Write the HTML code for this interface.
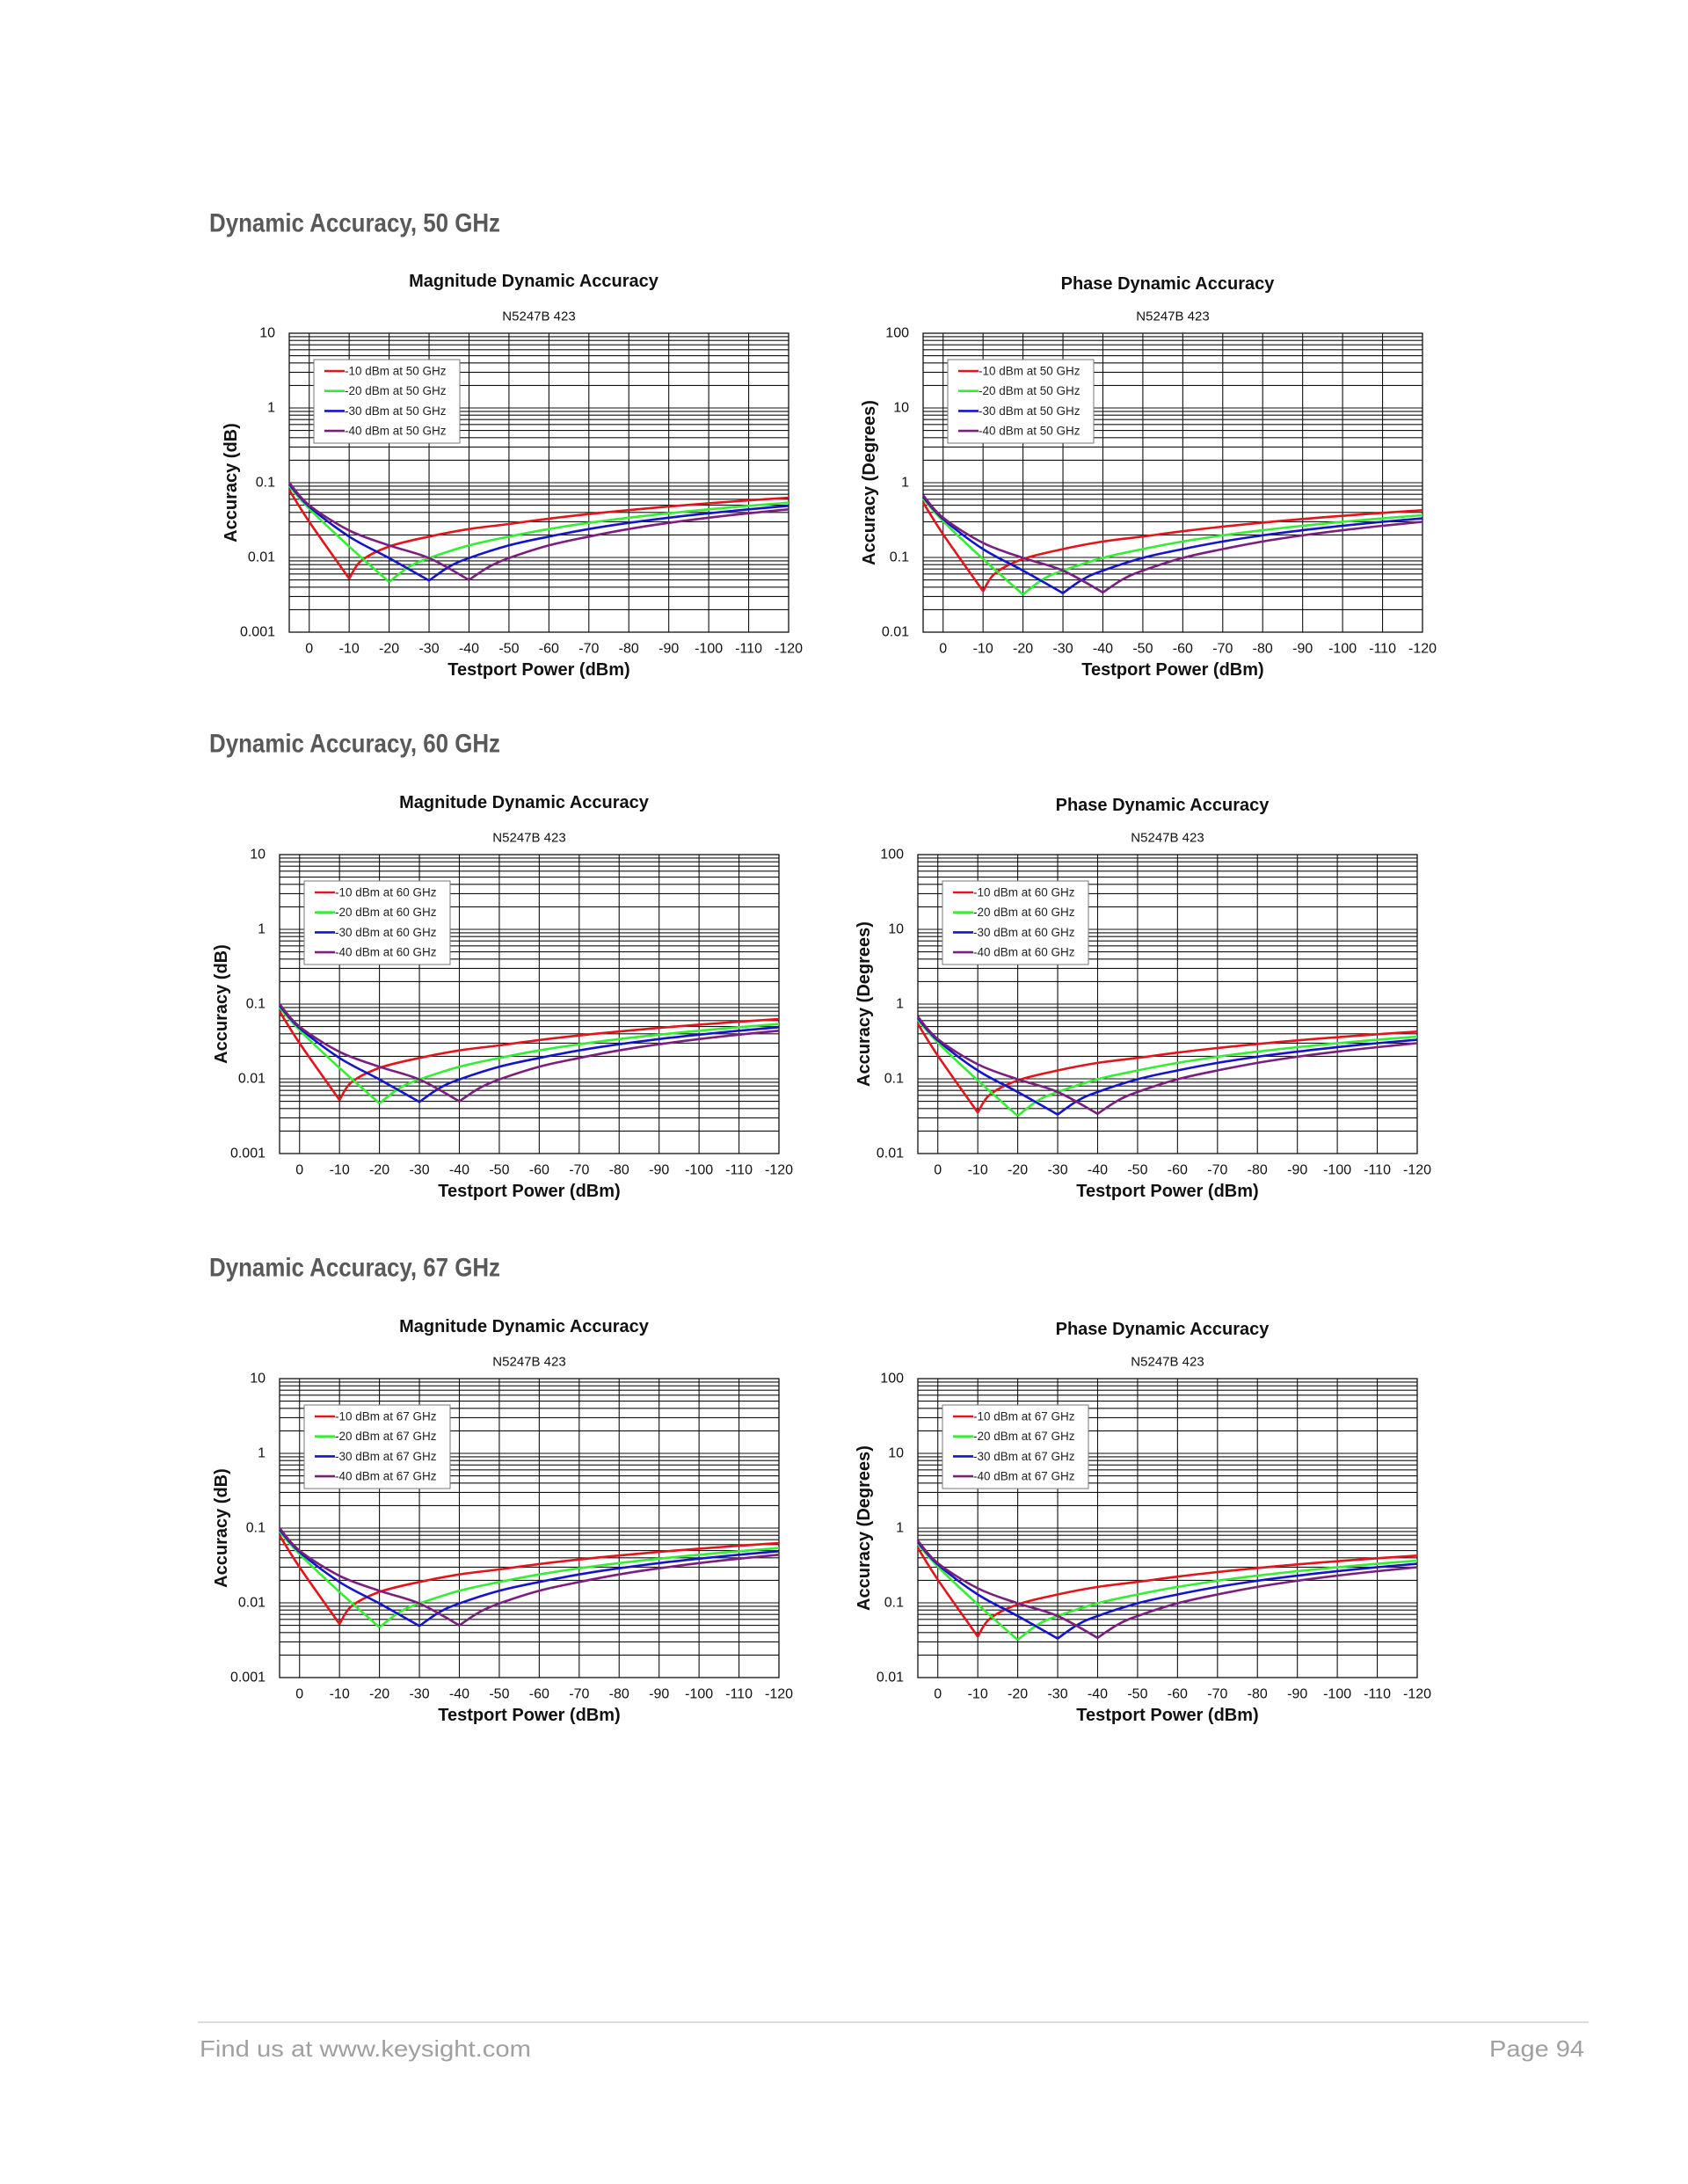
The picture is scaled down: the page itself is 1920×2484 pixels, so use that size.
<!DOCTYPE html>
<html><head><meta charset="utf-8">
<style>
html,body{margin:0;padding:0;background:#fff;}
body{width:1920px;height:2484px;overflow:hidden;}
svg{display:block;}
text{font-family:"Liberation Sans",sans-serif;}
</style></head>
<body>
<svg id="s" width="1920" height="2484" xmlns="http://www.w3.org/2000/svg">
<text x="238" y="254" dominant-baseline="central" textLength="331" lengthAdjust="spacingAndGlyphs" style="font-family:'Liberation Sans Narrow','Liberation Sans',sans-serif;font-weight:bold;font-size:30px" fill="#595959">Dynamic Accuracy, 50 GHz</text>
<text x="238" y="846" dominant-baseline="central" textLength="331" lengthAdjust="spacingAndGlyphs" style="font-family:'Liberation Sans Narrow','Liberation Sans',sans-serif;font-weight:bold;font-size:30px" fill="#595959">Dynamic Accuracy, 60 GHz</text>
<text x="238" y="1442" dominant-baseline="central" textLength="331" lengthAdjust="spacingAndGlyphs" style="font-family:'Liberation Sans Narrow','Liberation Sans',sans-serif;font-weight:bold;font-size:30px" fill="#595959">Dynamic Accuracy, 67 GHz</text>
<line x1="225" y1="2300" x2="1807" y2="2300" stroke="#d0d0d0" stroke-width="1.5"/>
<text x="227" y="2330" dominant-baseline="central" font-size="26" textLength="377" lengthAdjust="spacingAndGlyphs" fill="#a0a0a0">Find us at www.keysight.com</text>
<text x="1694" y="2330" dominant-baseline="central" font-size="26" textLength="108" lengthAdjust="spacingAndGlyphs" fill="#a0a0a0">Page 94</text>
</svg>
<script>
(function(){
var NS="http://www.w3.org/2000/svg", S=document.getElementById('s');
function el(t,a,txt){var e=document.createElementNS(NS,t);for(var k in a)e.setAttribute(k,a[k]);if(txt!==undefined)e.textContent=txt;S.appendChild(e);return e;}
var curves=[
 {c:"#e3141b",L:[[5,0.08],[0,0.03],[-10,0.0052]],R:[[-10,0.0052],[-13,0.009],[-20,0.014],[-30,0.019],[-40,0.024],[-50,0.028],[-60,0.033],[-70,0.038],[-80,0.043],[-90,0.048],[-100,0.053],[-110,0.058],[-120,0.063]]},
 {c:"#33ee33",L:[[5,0.09],[0,0.045],[-10,0.014],[-20,0.0047]],R:[[-20,0.0047],[-25,0.0075],[-30,0.0098],[-40,0.0145],[-50,0.019],[-60,0.024],[-70,0.029],[-80,0.034],[-90,0.039],[-100,0.044],[-110,0.049],[-120,0.054]]},
 {c:"#1414c8",L:[[5,0.095],[0,0.048],[-10,0.019],[-20,0.0098],[-30,0.0049]],R:[[-30,0.0049],[-35,0.0075],[-40,0.0098],[-50,0.0145],[-60,0.019],[-70,0.024],[-80,0.029],[-90,0.034],[-100,0.039],[-110,0.044],[-120,0.049]]},
 {c:"#7a1f7e",L:[[5,0.1],[0,0.05],[-10,0.023],[-20,0.0145],[-30,0.0098],[-40,0.005]],R:[[-40,0.005],[-45,0.0075],[-50,0.0098],[-60,0.0145],[-70,0.019],[-80,0.024],[-90,0.029],[-100,0.034],[-110,0.039],[-120,0.044]]}
];
function cr(pts){
 var d="M"+pts[0][0].toFixed(1)+","+pts[0][1].toFixed(1);
 for(var i=0;i<pts.length-1;i++){
  var p0=pts[i-1]||pts[i],p1=pts[i],p2=pts[i+1],p3=pts[i+2]||pts[i+1];
  var c1=[p1[0]+(p2[0]-p0[0])/6,p1[1]+(p2[1]-p0[1])/6],c2=[p2[0]-(p3[0]-p1[0])/6,p2[1]-(p3[1]-p1[1])/6];
  d+=" C"+c1[0].toFixed(1)+","+c1[1].toFixed(1)+" "+c2[0].toFixed(1)+","+c2[1].toFixed(1)+" "+p2[0].toFixed(1)+","+p2[1].toFixed(1);
 }
 return d;
}
function chart(x0,y0,phase,freq){
 var W=568,H=340,dec=4,top=phase?100:10,fac=phase?6.8:1;
 var lt=Math.log10(top);
 function X(p){return x0+(5-p)*W/125;}
 function Y(v){return y0+(lt-Math.log10(v))/dec*H;}
 for(var d=0;d<dec;d++){var base=top/Math.pow(10,d+1);
  for(var m=1;m<=9;m++){var y=Y(base*m);el('line',{x1:x0,x2:x0+W,y1:y,y2:y,stroke:'#111','stroke-width':1.1});}}
 for(var p=0;p>=-110;p-=10){el('line',{x1:X(p),x2:X(p),y1:y0,y2:y0+H,stroke:'#111','stroke-width':1.1});}
 el('rect',{x:x0,y:y0,width:W,height:H,fill:'none',stroke:'#111','stroke-width':1.3});
 var labs=phase?["100","10","1","0.1","0.01"]:["10","1","0.1","0.01","0.001"];
 for(var i=0;i<=dec;i++){el('text',{x:x0-16,y:y0+i*H/dec,'text-anchor':'end','dominant-baseline':'central','font-size':16,fill:'#111'},labs[i]);}
 for(var p=0;p>=-120;p-=10){el('text',{x:X(p),y:y0+H+19,'text-anchor':'middle','dominant-baseline':'central','font-size':16,fill:'#111'},String(p));}
 el('text',{x:x0+W/2,y:y0+H+43,'text-anchor':'middle','dominant-baseline':'central','font-size':20,'font-weight':'bold',fill:'#111'},"Testport Power (dBm)");
 var yt=phase?x0-61:x0-66;
 el('text',{x:yt,y:y0+H/2,'text-anchor':'middle','dominant-baseline':'central','font-size':20,'font-weight':'bold',fill:'#111',transform:'rotate(-90 '+yt+' '+(y0+H/2)+')'},phase?"Accuracy (Degrees)":"Accuracy (dB)");
 el('text',{x:x0+W/2-6,y:y0-(phase?56:59),'text-anchor':'middle','dominant-baseline':'central','font-size':20,'font-weight':'bold',fill:'#111'},phase?"Phase Dynamic Accuracy":"Magnitude Dynamic Accuracy");
 el('text',{x:x0+W/2,y:y0-19,'text-anchor':'middle','dominant-baseline':'central','font-size':15,fill:'#111'},"N5247B 423");
 curves.forEach(function(c){
  [c.L,c.R].forEach(function(br){
   var pts=br.map(function(q){return [X(q[0]),Y(q[1]*fac)];});
   el('path',{d:cr(pts),fill:'none',stroke:c.c,'stroke-width':2.6,'stroke-linejoin':'round'});
  });
 });
 var lx=x0+28,ly=y0+30;
 el('rect',{x:lx,y:ly,width:166,height:95,fill:'#fff',stroke:'#777','stroke-width':1});
 var names=["-10","-20","-30","-40"];
 for(var i=0;i<4;i++){var yy=ly+13+i*22.7;
  el('line',{x1:lx+12,x2:lx+35,y1:yy,y2:yy,stroke:curves[i].c,'stroke-width':2.6});
  el('text',{x:lx+35,y:yy,'dominant-baseline':'central','font-size':13.5,fill:'#222'},names[i]+" dBm at "+freq+" GHz");}
}
chart(329,379,false,50); chart(1050,379,true,50);
chart(318,972,false,60); chart(1044,972,true,60);
chart(318,1568,false,67); chart(1044,1568,true,67);
})();
</script>
</body></html>
